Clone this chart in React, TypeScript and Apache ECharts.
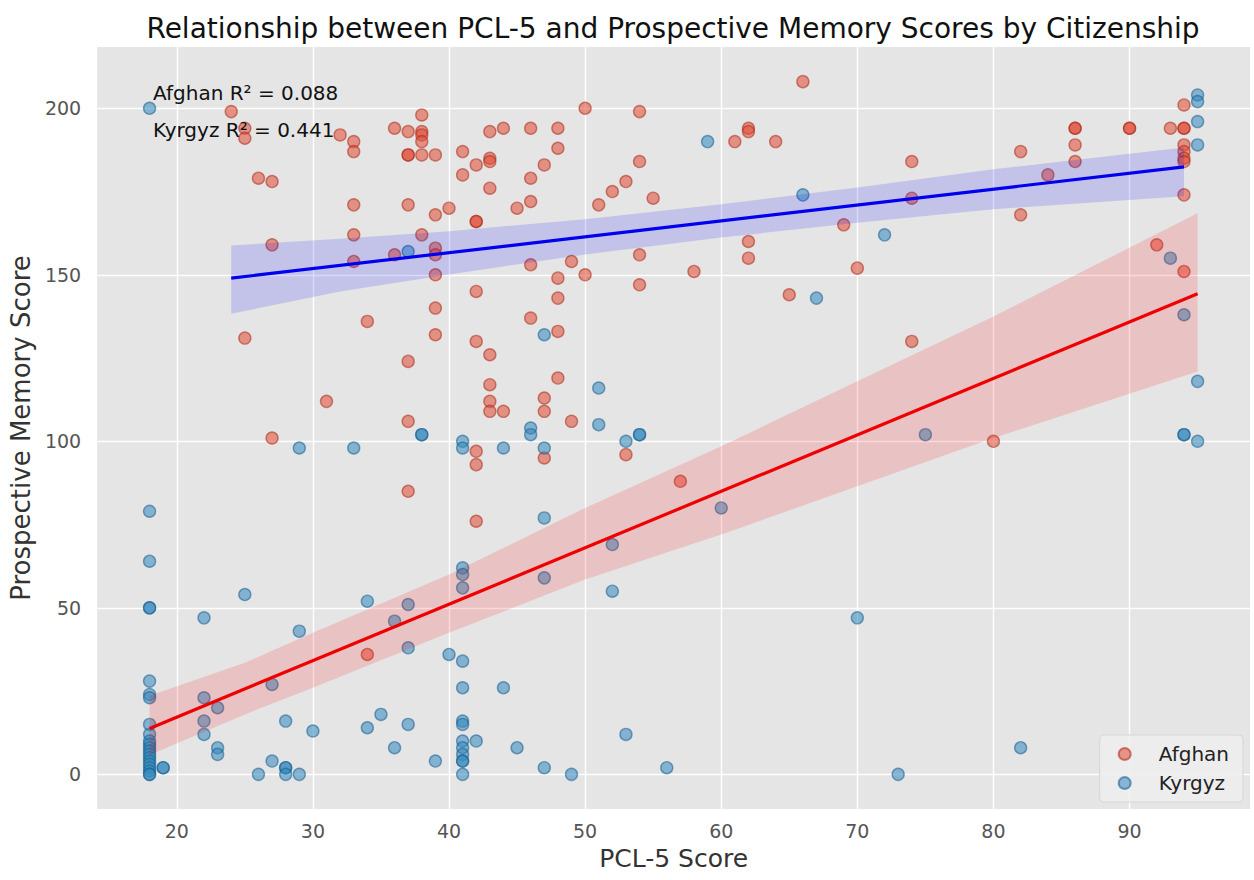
import React, { useEffect, useRef } from "react";
import * as echarts from "echarts";

// ---- Data ----
const afghanPCL = [
  24, 25, 25, 25, 26, 27, 27, 27, 31, 32, 33, 33, 33, 33, 33, 34, 34, 36, 36, 37,
  37, 37, 37, 37, 37, 37, 38, 38, 38, 38, 38, 38, 39, 39, 39, 39, 39, 39, 39, 40,
  41, 41, 42, 42, 42, 42, 42, 42, 42, 42, 43, 43, 43, 43, 43, 43, 43, 43, 44, 44,
  45, 46, 46, 46, 46, 46, 47, 47, 47, 47, 48, 48, 48, 48, 48, 48, 49, 49, 50, 50,
  51, 52, 53, 53, 54, 54, 54, 54, 55, 57, 58, 61, 62, 62, 62, 62, 64, 65, 66, 69,
  70, 74, 74, 74, 80, 82, 82, 84, 86, 86, 86, 86, 90, 90, 92, 93, 94, 94, 94, 94,
  94, 94, 94, 94, 94,
];
const afghanPM = [
  199, 194, 191, 131, 179, 178, 159, 101, 112, 192, 190, 187, 171, 162, 154, 136, 36, 194, 156, 193,
  186, 186, 171, 124, 106, 85, 198, 193, 192, 190, 186, 162, 186, 168, 158, 156, 150, 140, 132, 170,
  187, 180, 183, 166, 166, 145, 130, 97, 93, 76, 193, 185, 184, 176, 126, 117, 112, 109, 194, 109,
  170, 194, 179, 172, 153, 137, 183, 113, 109, 95, 194, 188, 149, 143, 133, 119, 154, 106, 200, 150,
  171, 175, 178, 96, 199, 184, 156, 147, 173, 88, 151, 190, 194, 193, 160, 155, 190, 144, 208, 165,
  152, 184, 173, 130, 100, 187, 168, 180, 194, 194, 189, 184, 194, 194, 159, 194, 201, 194, 194, 189,
  187, 185, 184, 174, 151,
];

const kyrgyzPCL = [
  18, 18, 18, 18, 18, 18, 18, 18, 18, 18, 18, 18, 18, 18, 18, 18, 18, 18, 18, 18,
  18, 18, 19, 19, 22, 22, 22, 22, 23, 23, 23, 25, 26, 27, 27, 28, 28, 28, 28, 29,
  29, 29, 30, 33, 34, 34, 35, 36, 36, 37, 37, 37, 37, 38, 38, 39, 40, 41, 41, 41,
  41, 41, 41, 41, 41, 41, 41, 41, 41, 41, 41, 41, 42, 44, 44, 45, 46, 46, 47, 47,
  47, 47, 47, 49, 51, 51, 52, 52, 53, 53, 54, 54, 56, 59, 60, 66, 67, 70, 72, 73,
  75, 82, 93, 94, 94, 94, 95, 95, 95, 95, 95, 95,
];
const kyrgyzPM = [
  200, 79, 64, 50, 50, 28, 24, 23, 15, 12, 10, 9, 8, 7, 6, 5, 4, 3, 2, 1,
  0, 0, 2, 2, 47, 23, 16, 12, 20, 8, 6, 54, 0, 27, 4, 16, 2, 2, 0, 98,
  43, 0, 13, 98, 52, 14, 18, 46, 8, 157, 51, 38, 15, 102, 102, 4, 36, 100, 98, 62,
  60, 56, 34, 26, 16, 15, 10, 8, 6, 4, 4, 0, 10, 98, 26, 8, 104, 102, 132, 98,
  77, 59, 2, 0, 116, 105, 69, 55, 100, 12, 102, 102, 2, 190, 80, 174, 143, 47, 162, 0,
  102, 8, 155, 138, 102, 102, 204, 202, 196, 189, 118, 100,
];

// regression fits and confidence bands
const afghanFitX = [24, 94];
const afghanFitY = [149, 182.4];
const afghanBandX = [24, 32, 40, 50, 60, 70, 80, 94];
const afghanBandLo = [138.3, 145, 150.1, 156.1, 161.2, 165.6, 169.7, 173.6];
const afghanBandHi = [158.8, 160.8, 163.1, 166.7, 171.2, 176.2, 181.7, 188.2];

const kyrgyzFitX = [18, 95];
const kyrgyzFitY = [13.8, 144.3];
const kyrgyzBandX = [18, 25, 30, 40, 50, 60, 70, 80, 95];
const kyrgyzBandLo = [5.8, 18, 26, 42.5, 58.5, 72, 86.5, 101, 121];
const kyrgyzBandHi = [23.6, 33.5, 42.5, 60, 80, 98.5, 118, 137.5, 168.5];

const xTicks = [20, 30, 40, 50, 60, 70, 80, 90];
const yTicks = [0, 50, 100, 150, 200];

const titleText = "Relationship between PCL-5 and Prospective Memory Scores by Citizenship";
const r2Afghan = "Afghan R\u00B2 = 0.088";
const r2Kyrgyz = "Kyrgyz R\u00B2 = 0.441";

const FONT = "DejaVu Sans";

function pairs(xs: number[], ys: number[]) {
  return xs.map((x, i) => [x, ys[i]]);
}

function bandSeries(name: string, xs: number[], lo: number[], hi: number[], fill: string) {
  return {
    type: "custom",
    name,
    z: 3,
    silent: true,
    data: xs.map((x, i) => [x, lo[i], hi[i]]),
    encode: { x: 0, y: [1, 2] },
    renderItem: (params: any, api: any) => {
      if (params.dataIndex !== 0) return null;
      const top = xs.map((x, i) => api.coord([x, hi[i]]));
      const bot = xs.map((x, i) => api.coord([x, lo[i]])).reverse();
      return {
        type: "polygon",
        shape: { points: top.concat(bot) },
        style: { fill, stroke: "none" },
      };
    },
  };
}

export default function App() {
  const ref = useRef<HTMLDivElement>(null);

  useEffect(() => {
    document.body.style.margin = "0";
    if (!ref.current) return;
    const chart = echarts.init(ref.current, undefined, { renderer: "svg" });

    const option: any = {
      animation: false,
      backgroundColor: "#ffffff",
      grid: { left: 97, right: 4, top: 47, bottom: 71, show: true, backgroundColor: "#e5e5e5", borderWidth: 0 },
      xAxis: {
        type: "value",
        min: 14.15,
        max: 98.85,
        name: "PCL-5 Score",
        nameLocation: "middle",
        nameGap: 37,
        nameTextStyle: { fontFamily: FONT, fontSize: 25, color: "#333" },
        axisLine: { show: false },
        axisTick: { show: false },
        splitLine: { show: false },
        axisLabel: { customValues: xTicks, fontFamily: FONT, fontSize: 19, color: "#555", margin: 12 },
      },
      yAxis: {
        type: "value",
        min: -10.4,
        max: 218.4,
        name: "Prospective Memory Score",
        nameLocation: "middle",
        nameRotate: 90,
        nameGap: 60,
        nameTextStyle: { fontFamily: FONT, fontSize: 26, color: "#333" },
        axisLine: { show: false },
        axisTick: { show: false },
        splitLine: { show: false },
        axisLabel: { customValues: yTicks, fontFamily: FONT, fontSize: 19, color: "#555", margin: 16 },
      },
      legend: {
        data: ["Afghan", "Kyrgyz"],
        orient: "vertical",
        right: 11,
        bottom: 78,
        padding: [9, 14, 9, 18],
        itemGap: 9,
        itemWidth: 30,
        itemHeight: 12,
        icon: "circle",
        backgroundColor: "rgba(238,238,238,0.85)",
        borderColor: "#d6d6d6",
        borderWidth: 1,
        borderRadius: 4,
        textStyle: { fontFamily: FONT, fontSize: 20, color: "#222", padding: [0, 0, 0, 14] },
      },
      graphic: [
        {
          type: "text",
          x: 673,
          y: 28,
          style: {
            text: titleText,
            fill: "#111",
            font: `28px "${FONT}"`,
            textAlign: "center",
            textVerticalAlign: "middle",
          },
        },
        {
          type: "text",
          x: 153,
          y: 93,
          z: 10,
          style: { text: r2Afghan, fill: "#111", font: `20px "${FONT}"`, textAlign: "left", textVerticalAlign: "middle" },
        },
        {
          type: "text",
          x: 153,
          y: 130,
          z: 10,
          style: { text: r2Kyrgyz, fill: "#111", font: `20px "${FONT}"`, textAlign: "left", textVerticalAlign: "middle" },
        },
      ],
      series: [
        {
          type: "scatter",
          name: "gridlines",
          data: [],
          z: 1,
          silent: true,
          markLine: {
            z: 1,
            silent: true,
            animation: false,
            symbol: ["none", "none"],
            label: { show: false },
            emphasis: { disabled: true },
            lineStyle: { color: "#ffffff", width: 1.4, type: "solid" },
            data: [...xTicks.map((v) => ({ xAxis: v })), ...yTicks.map((v) => ({ yAxis: v }))],
          },
        },
        {
          type: "scatter",
          name: "Afghan",
          z: 2,
          symbol: "circle",
          symbolSize: 12,
          data: pairs(afghanPCL, afghanPM),
          itemStyle: { color: "rgba(226,74,51,0.68)", borderColor: "rgba(170,45,25,0.7)", borderWidth: 1.4 },
        },
        {
          type: "scatter",
          name: "Kyrgyz",
          z: 2,
          symbol: "circle",
          symbolSize: 12,
          data: pairs(kyrgyzPCL, kyrgyzPM),
          itemStyle: { color: "rgba(52,138,189,0.7)", borderColor: "rgba(25,95,145,0.7)", borderWidth: 1.4 },
        },
        bandSeries("Afghan CI", afghanBandX, afghanBandLo, afghanBandHi, "rgba(0,0,255,0.15)"),
        bandSeries("Kyrgyz CI", kyrgyzBandX, kyrgyzBandLo, kyrgyzBandHi, "rgba(255,0,0,0.15)"),
        {
          type: "line",
          name: "Afghan fit",
          z: 4,
          silent: true,
          showSymbol: false,
          data: pairs(afghanFitX, afghanFitY),
          lineStyle: { color: "#0000ee", width: 3.2 },
          itemStyle: { color: "#0000ee" },
        },
        {
          type: "line",
          name: "Kyrgyz fit",
          z: 4,
          silent: true,
          showSymbol: false,
          data: pairs(kyrgyzFitX, kyrgyzFitY),
          lineStyle: { color: "#ee0000", width: 3.2 },
          itemStyle: { color: "#ee0000" },
        },
      ],
    };

    chart.setOption(option);
    return () => chart.dispose();
  }, []);

  return <div ref={ref} style={{ width: 1254, height: 880 }} />;
}
